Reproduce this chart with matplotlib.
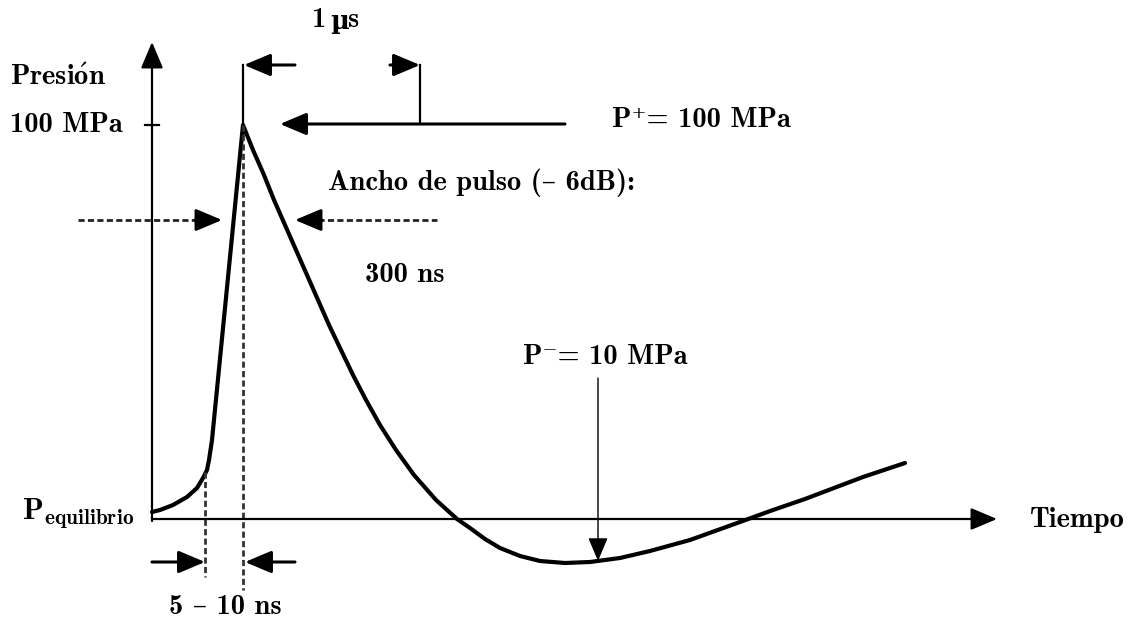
#!/usr/bin/env python3
"""Schematic of a shock-wave pressure pulse (Presión vs Tiempo)."""

import matplotlib

matplotlib.use("Agg", force=True)
import matplotlib.pyplot as plt

# pulse outline (x = time axis, y = screen row, downwards)
PULSE_T = [152, 160, 173, 187, 197, 203, 207, 209, 212, 243,
           253, 264, 274, 285, 296, 307, 318, 329, 341, 353, 366, 380,
           396, 414, 436, 457, 470, 485, 500, 520, 540, 565, 590, 620,
           650, 690, 740, 773, 805, 863, 905]
PULSE_P = [512, 510, 505, 497, 488, 478, 470, 460, 440, 125,
           150, 175, 200, 225, 250, 275, 300, 325, 350, 375, 400, 425,
           450, 475, 500, 519, 528, 539, 548, 556, 561, 563, 562, 558,
           551, 540, 522, 510, 499, 477, 463]

AXIS_ORIGIN = (152, 519)
AXIS_ENDS = (997, 42)
PEAK = (243, 125)
FOOT = (205, 472)
HALF_LEVEL = 220
TRAIL_MIN = (598, 561)

LABELS = {
    "Presi$\\mathbf{\\acute{o}}$n": (10, 78, "left"),
    "100 MPa": (10, 125, "left"),
    "P⁺= 100 MPa": (612, 120, "left"),
    "Ancho de pulso (– 6dB):": (328, 183, "left"),
    "300 ns": (365, 275, "left"),
    "P⁻= 10 MPa": (523, 357, "left"),
    "Tiempo": (1030, 520, "left"),
    "5 – 10 ns": (225, 607, "center"),
}

plt.rcParams["mathtext.fontset"] = "cm"
FONT = ["cmb10", "DejaVu Serif"]
SIZE = 20.5


def arrow(ax, tail, tip, lw=1.8, ls="-", color="black", head=1.0):
    ax.annotate(
        "",
        xy=tip,
        xytext=tail,
        arrowprops=dict(
            arrowstyle=f"-|>,head_length={0.9 * head},head_width={0.38 * head}",
            mutation_scale=18,
            lw=lw,
            ls=ls,
            color=color,
            shrinkA=0,
            shrinkB=0,
        ),
    )


fig = plt.figure(figsize=(11.35, 6.18), dpi=100)
ax = fig.add_axes([0, 0, 1, 1])
ax.set_xlim(0, 1135)
ax.set_ylim(618, 0)
ax.axis("off")

x0, y0 = AXIS_ORIGIN
# axes
arrow(ax, (x0, y0 + 2), (x0, AXIS_ENDS[1]), lw=1.6)
arrow(ax, (x0, y0), (AXIS_ENDS[0], y0), lw=1.6)
ax.plot([x0 - 7, x0 + 7], [PEAK[1], PEAK[1]], color="black", lw=1.6)

# pulse
ax.plot(PULSE_T, PULSE_P, color="black", lw=3.0,
        solid_joinstyle="round", solid_capstyle="round")

# 1 µs marker
ax.plot([PEAK[0], PEAK[0]], [65, PEAK[1]], color="black", lw=1.6)
ax.plot([420, 420], [65, 123], color="black", lw=1.6)
arrow(ax, (295, 65), (PEAK[0] + 1, 65), lw=2.2)
arrow(ax, (390, 65), (420, 65), lw=2.2)
arrow(ax, (565, 124), (280, 124), lw=2.2)

# pulse width at -6 dB
dash = (0, (2.2, 1.2))
ax.plot([78, 200], [HALF_LEVEL, HALF_LEVEL], color="#222222", lw=2.0, ls=dash)
arrow(ax, (195, HALF_LEVEL), (222, HALF_LEVEL), lw=2.0)
ax.plot([318, 437], [HALF_LEVEL, HALF_LEVEL], color="#222222", lw=2.0, ls=dash)
arrow(ax, (322, HALF_LEVEL), (295, HALF_LEVEL), lw=2.0)

# rise time marker
ax.plot([PEAK[0], PEAK[0]], [PEAK[1], 590], color="#333333", lw=2.0, ls=dash)
ax.plot([FOOT[0], FOOT[0]], [FOOT[1], 577], color="#333333", lw=2.0, ls=dash)
arrow(ax, (152, 562), (FOOT[0], 562), lw=2.2)
arrow(ax, (295, 562), (PEAK[0] + 2, 562), lw=2.2)

# negative peak
arrow(ax, (TRAIL_MIN[0], 378), TRAIL_MIN, lw=1.0, head=0.9)

for text, (x, y, ha) in LABELS.items():
    ax.text(x, y, text, ha=ha, va="center", fontsize=SIZE, family=FONT, color="black")

# "1 µs": cmb10 has no micro sign, so the µ comes from DejaVu Serif
ax.text(318, 20, "1", ha="center", va="center", fontsize=SIZE, family=FONT)
ax.text(340, 22, "µ", ha="center", va="center", fontsize=SIZE - 2,
        family="DejaVu Serif", weight="bold")
ax.text(354, 20, "s", ha="center", va="center", fontsize=SIZE, family=FONT)

ax.text(22, 513, r"$\mathbf{P}_{\mathbf{equilibrio}}$", ha="left", va="center",
        fontsize=22, color="black")

fig.savefig("out.png", dpi=100)
